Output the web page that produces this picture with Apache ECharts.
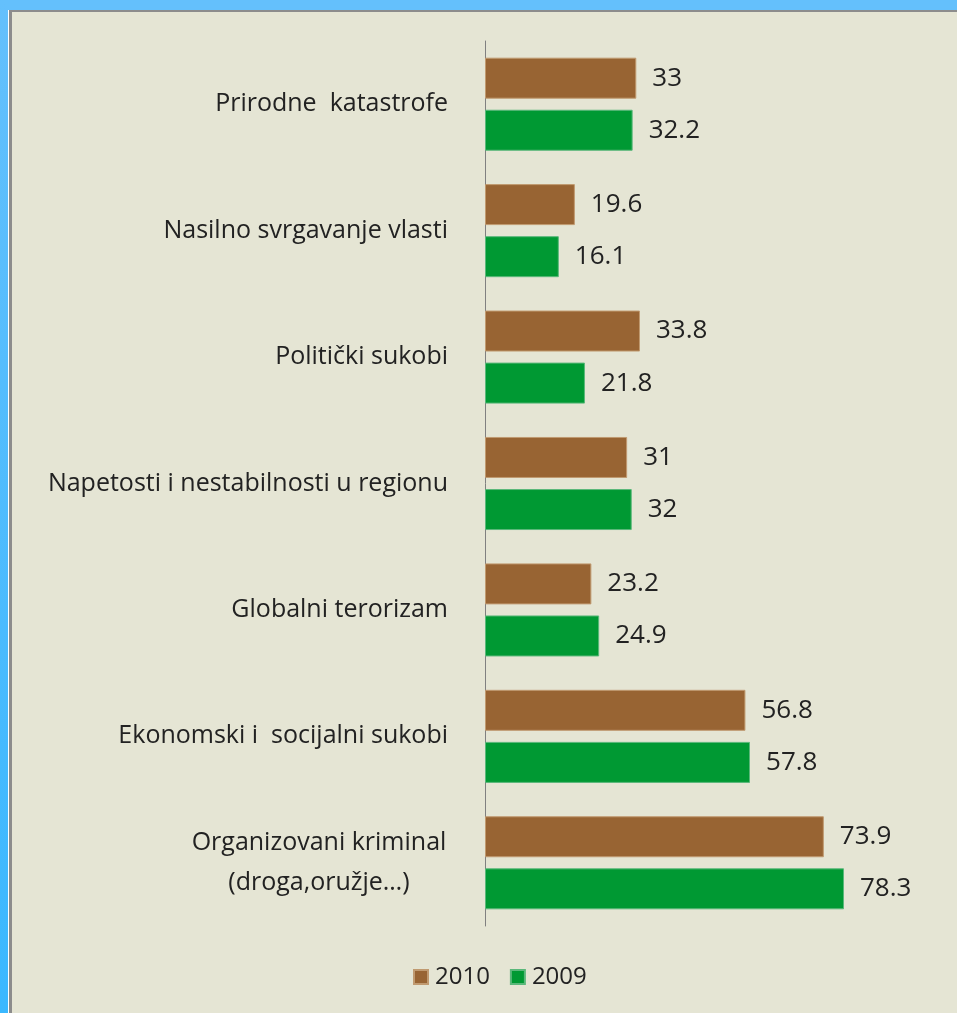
<!DOCTYPE html>
<html>
<head>
<meta charset="utf-8">
<script src="https://cdn.jsdelivr.net/npm/echarts@6/dist/echarts.min.js"></script>
<style>
html,body{margin:0;padding:0;background:#e5e5d4;}
#c{width:957px;height:1013px;}
</style>
</head>
<body>
<div id="c"></div>
<script>
const categories = [
  'Prirodne  katastrofe',
  'Nasilno svrgavanje vlasti',
  'Politički sukobi',
  'Napetosti i nestabilnosti u regionu',
  'Globalni terorizam',
  'Ekonomski i  socijalni sukobi',
  'Organizovani kriminal\n(droga,oružje…)'
];
const series2010 = [33, 19.6, 33.8, 31, 23.2, 56.8, 73.9];
const series2009 = [32.2, 16.1, 21.8, 32, 24.9, 57.8, 78.3];
const seriesNames = ['2010', '2009'];

const chart = echarts.init(document.getElementById('c'), null, {renderer: 'canvas'});
const FONT = '"Open Sans", "Noto Sans", sans-serif';
const labelStyle = {show: true, position: 'right', distance: 16, color: '#222', fontSize: 26, fontFamily: FONT};

chart.setOption({
  backgroundColor: '#e5e5d4',
  animation: false,
  graphic: [
    {type: 'rect', shape: {x: 0, y: 0, width: 957, height: 10}, style: {fill: '#64c0fc'}, z: 100},
    {type: 'rect', shape: {x: 0, y: 0, width: 8, height: 1013},
      style: {fill: new echarts.graphic.LinearGradient(0, 0, 0, 1, [{offset: 0, color: '#64c0fc'}, {offset: 1, color: '#3ab8ff'}])}, z: 100},
    {type: 'rect', shape: {x: 8, y: 10, width: 1, height: 1003}, style: {fill: '#ffffff'}, z: 100},
    {type: 'rect', shape: {x: 9, y: 10, width: 948, height: 2}, style: {fill: '#8c8c8c'}, z: 100},
    {type: 'rect', shape: {x: 9, y: 10, width: 3, height: 1003}, style: {fill: '#8c8c8c'}, z: 100}
  ],
  grid: {left: 485, right: 13.5, top: 41, bottom: 1013 - 926, containLabel: false},
  legend: {
    data: seriesNames,
    top: 960,
    left: 408,
    itemWidth: 14,
    itemHeight: 14,
    itemGap: 20,
    icon: 'rect',
    textStyle: {fontSize: 24, color: '#222', fontFamily: FONT, padding: [0, 0, 0, 2]}
  },
  xAxis: {
    type: 'value', min: 0, max: 100,
    show: false
  },
  yAxis: {
    type: 'category',
    data: categories,
    inverse: true,
    axisLine: {show: true, lineStyle: {color: '#808080', width: 1}},
    axisTick: {show: false},
    axisLabel: {
      margin: 37,
      color: '#222',
      fontSize: 25,
      fontFamily: FONT,
      formatter: function (v) {
        if (v.indexOf('\n') >= 0) {
          return v.split('\n').map(s => '{c|' + s + '}').join('\n');
        }
        return v;
      },
      rich: {c: {width: 258, align: 'center', fontSize: 25, color: '#222', fontFamily: FONT, lineHeight: 40}}
    },
    splitLine: {show: false}
  },
  series: [
    {name: seriesNames[0], type: 'bar', data: series2010, barWidth: 41, barGap: '27%',
      itemStyle: {color: '#986433', borderColor: '#c09a70', borderWidth: 1}, label: labelStyle},
    {name: seriesNames[1], type: 'bar', data: series2009, barWidth: 41,
      itemStyle: {color: '#009933', borderColor: '#5ab87a', borderWidth: 1}, label: labelStyle}
  ]
});
</script>
</body>
</html>
